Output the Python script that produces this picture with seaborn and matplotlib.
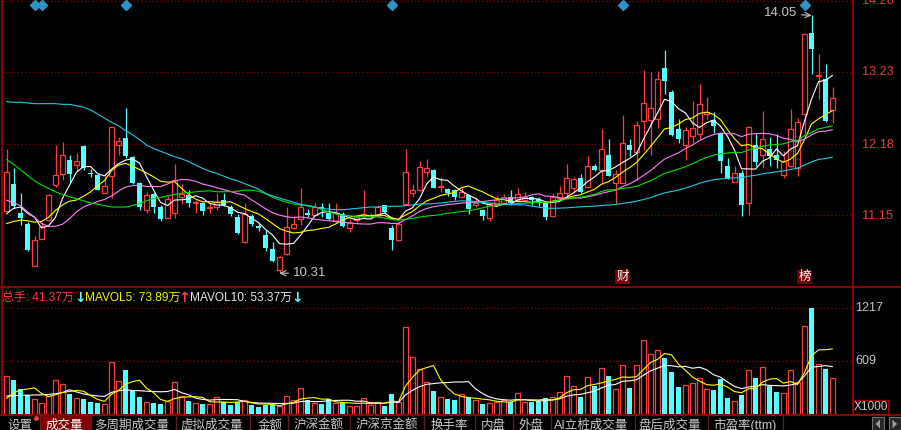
import numpy as np
import pandas as pd
import seaborn as sns
import matplotlib.pyplot as plt
from matplotlib.patches import Rectangle, Polygon
from matplotlib.transforms import blended_transform_factory

## data (daily K line, 119 sessions) ##

open_ = [11.214, 11.600, 11.185, 11.028, 10.412, 10.808, 11.077, 11.585, 11.747, 11.957,
         11.879, 12.162, 11.762, 11.737, 11.478, 11.722, 12.177, 12.265, 11.996, 11.615,
         11.224, 11.458, 11.272, 11.116, 11.185, 11.409, 11.444, 11.321, 11.331, 11.262,
         11.272, 11.370, 11.272, 11.126, 10.759, 11.145, 10.994, 10.871, 10.661, 10.353,
         10.588, 10.969, 11.101, 11.189, 11.150, 11.263, 11.185, 11.067, 11.175, 10.969,
         11.087, 11.136, 11.145, 11.136, 11.292, 10.969, 10.793, 11.312, 11.478, 11.517,
         11.771, 11.810, 11.556, 11.537, 11.517, 11.419, 11.444, 11.297, 11.224, 11.111,
         11.312, 11.321, 11.409, 11.370, 11.370, 11.419, 11.380, 11.331, 11.136, 11.395,
         11.478, 11.541, 11.688, 11.556, 11.869, 11.801, 12.031, 11.615, 11.625, 12.163,
         12.065, 12.520, 12.534, 12.554, 13.292, 12.945, 12.397, 12.177, 12.300, 12.334,
         12.617, 12.534, 12.339, 11.869, 11.639, 11.762, 11.321, 12.177, 12.030, 12.114,
         12.030, 11.737, 11.859, 11.835, 12.617, 13.791, 13.170, 13.131, 12.681]
high = [12.114, 11.840, 11.468, 11.053, 10.852, 11.053, 11.458, 12.177, 12.216, 12.031,
        12.055, 12.170, 11.825, 11.750, 11.722, 12.436, 12.290, 12.700, 12.006, 11.640,
        11.493, 11.493, 11.297, 11.429, 11.899, 11.605, 11.517, 11.370, 11.346, 11.321,
        11.468, 11.468, 11.297, 11.165, 11.321, 11.175, 11.038, 10.930, 10.759, 10.563,
        11.263, 11.136, 11.541, 11.248, 11.331, 11.331, 11.331, 11.331, 11.199, 11.101,
        11.150, 11.517, 11.185, 11.297, 11.302, 11.004, 11.052, 12.114, 11.605, 11.933,
        11.967, 11.820, 11.703, 11.551, 11.527, 11.566, 11.458, 11.409, 11.248, 11.321,
        11.429, 11.458, 11.517, 11.541, 11.493, 11.429, 11.409, 11.346, 11.468, 11.576,
        11.899, 11.703, 11.752, 12.016, 11.899, 12.407, 12.260, 11.810, 12.603, 12.251,
        12.520, 13.253, 13.229, 13.238, 13.542, 12.974, 12.544, 12.436, 12.813, 13.057,
        12.862, 12.642, 12.349, 11.982, 11.859, 11.811, 12.446, 12.324, 12.666, 12.290,
        12.324, 12.079, 12.691, 12.569, 13.786, 14.050, 13.498, 13.351, 13.009]
low = [11.210, 11.250, 11.004, 10.637, 10.410, 10.800, 11.067, 11.566, 11.664, 11.639,
       11.786, 11.801, 11.703, 11.510, 11.470, 11.395, 12.031, 11.982, 11.605, 11.224,
       11.185, 11.185, 11.067, 11.110, 11.116, 11.312, 11.272, 11.185, 11.150, 11.185,
       11.224, 11.282, 11.136, 10.881, 10.744, 10.989, 10.920, 10.637, 10.466, 10.310,
       10.578, 10.955, 11.004, 11.126, 11.136, 11.126, 11.087, 11.052, 10.979, 10.906,
       11.028, 11.126, 11.101, 11.126, 11.185, 10.647, 10.774, 11.297, 11.419, 11.507,
       11.703, 11.541, 11.493, 11.429, 11.370, 11.409, 11.165, 11.272, 11.077, 11.067,
       11.297, 11.312, 11.297, 11.346, 11.360, 11.297, 11.282, 11.077, 11.130, 11.380,
       11.419, 11.493, 11.478, 11.541, 11.786, 11.605, 11.713, 11.312, 11.615, 12.006,
       11.664, 12.104, 12.031, 12.422, 12.911, 12.300, 12.202, 11.947, 12.202, 12.260,
       12.544, 12.348, 11.762, 11.673, 11.630, 11.136, 11.150, 11.859, 11.835, 11.859,
       11.835, 11.688, 11.849, 11.713, 12.324, 13.204, 12.837, 12.505, 12.485]
close = [11.776, 11.282, 11.116, 10.647, 10.793, 10.989, 11.439, 11.732, 12.026, 11.747,
         11.938, 11.835, 11.742, 11.517, 11.576, 12.427, 12.226, 12.006, 11.615, 11.263,
         11.439, 11.272, 11.101, 11.380, 11.664, 11.458, 11.331, 11.336, 11.214, 11.277,
         11.346, 11.297, 11.165, 10.891, 11.175, 11.018, 10.969, 10.676, 10.480, 10.549,
         10.979, 11.028, 11.263, 11.150, 11.263, 11.243, 11.101, 11.185, 10.989, 11.038,
         11.126, 11.175, 11.155, 11.263, 11.199, 10.784, 11.018, 11.781, 11.517, 11.850,
         11.835, 11.551, 11.576, 11.478, 11.419, 11.493, 11.248, 11.331, 11.136, 11.312,
         11.370, 11.409, 11.321, 11.453, 11.419, 11.370, 11.360, 11.126, 11.419, 11.468,
         11.688, 11.673, 11.493, 11.869, 11.801, 12.114, 11.722, 11.750, 12.192, 12.094,
         12.466, 12.774, 12.700, 13.131, 13.092, 12.309, 12.251, 12.383, 12.422, 12.759,
         12.652, 12.446, 11.933, 11.688, 11.762, 11.297, 12.436, 11.918, 12.260, 12.006,
         11.947, 11.933, 12.407, 12.505, 13.776, 13.561, 13.190, 12.520, 12.847]
# volume in thousands of lots (axis says X1000)
volume = [435, 389, 281, 216, 166, 119, 204, 389, 343, 227,
          177, 166, 139, 119, 112, 593, 377, 504, 266, 196,
          131, 119, 112, 150, 362, 204, 146, 119, 112, 112,
          189, 139, 100, 131, 158, 100, 73, 100, 100, 89,
          204, 158, 293, 158, 119, 112, 166, 127, 127, 89,
          89, 177, 100, 139, 89, 227, 139, 997, 650, 512,
          362, 262, 189, 166, 158, 223, 189, 158, 112, 119,
          139, 158, 139, 235, 139, 131, 150, 177, 196, 254,
          435, 320, 196, 420, 320, 523, 435, 281, 562, 296,
          562, 851, 689, 735, 639, 485, 312, 331, 350, 408,
          281, 273, 400, 177, 146, 216, 504, 408, 543, 323,
          254, 235, 504, 370, 1012, 1224, 574, 516, 413.7]
# header readout (万手)
mavol5_last = 73.89
mavol10_last = 53.37

# moving-average values before the window is full (earlier sessions are off-screen)
ma5_head = [11.17, 11.25, 11.27, 11.18]
ma10_head = [11.03, 11.06, 11.08, 11.07, 11.05, 11.06, 11.12, 11.22, 11.30]
ma20_head = [11.37, 11.33, 11.29, 11.20, 11.12, 11.03, 10.99, 10.99, 11.02, 11.10,
             11.20, 11.27, 11.31, 11.35, 11.38, 11.43, 11.50, 11.56, 11.58]
ma30_head = [11.96, 11.89, 11.81, 11.73, 11.65, 11.59, 11.54, 11.49, 11.45, 11.42,
             11.39, 11.36, 11.33, 11.31, 11.29, 11.27, 11.27, 11.27, 11.29, 11.32,
             11.36, 11.39, 11.41, 11.43, 11.45, 11.47, 11.48, 11.49, 11.50]
ma60_head = [12.80, 12.79, 12.79, 12.78, 12.77, 12.77, 12.77, 12.77, 12.76, 12.76,
             12.74, 12.72, 12.68, 12.62, 12.56, 12.50, 12.45, 12.38, 12.32, 12.25,
             12.17, 12.12, 12.08, 12.04, 12.00, 11.97, 11.93, 11.88, 11.83, 11.79,
             11.76, 11.72, 11.68, 11.65, 11.61, 11.57, 11.53, 11.47, 11.43, 11.40,
             11.37, 11.34, 11.31, 11.29, 11.27, 11.25, 11.24, 11.23, 11.23, 11.24,
             11.25, 11.26, 11.27, 11.27, 11.28, 11.28, 11.28, 11.29, 11.30]
vma5_head = [177, 240, 273, 285]
vma10_head = [204, 208, 212, 214, 216, 218, 222, 230, 245]

price_ticks = [14.26, 13.23, 12.18, 11.15]
vol_ticks = [1217, 609]
event_days = [4, 5, 17, 55, 88, 114]      # blue diamonds on top
badge_days = {88: "财", 114: "榜"}
tabs = ["设置", "成交量", "多周期成交量", "虚拟成交量", "金额", "沪深金额", "沪深京金额",
        "换手率", "内盘", "外盘", "AI立桩成交量", "盘后成交量", "市盈率(ttm)"]

## setup ##

sns.set_style("dark", {"axes.facecolor": "black", "figure.facecolor": "black"})
plt.rcParams['font.family'] = ['Liberation Sans', 'Noto Sans CJK SC', 'DejaVu Sans']

RED = "#ff3c3c"
CYAN = "#54ffff"
FRAME = "#a00000"
GRID = "#8a0000"
GREY = "#c8c8c8"

W, H = 901, 430
fig = plt.figure(figsize=(W / 100, H / 100), dpi=100, facecolor="black")


def px_axes(x0, y0, x1, y1):
    return fig.add_axes([x0 / W, 1 - y1 / H, (x1 - x0) / W, (y1 - y0) / H])


df = pd.DataFrame({"open": open_, "high": high, "low": low, "close": close, "vol": volume})
n = len(df)
x = np.arange(n)


def ma(s, k, head):
    out = s.rolling(k).mean().to_numpy()
    out[:k - 1] = head
    return out


ma_lines = [(ma(df.close, 5, ma5_head), "#ffffff"),
            (ma(df.close, 10, ma10_head), "#ffff00"),
            (ma(df.close, 20, ma20_head), "#ff80ff"),
            (ma(df.close, 30, ma30_head), "#00e000"),
            (ma(df.close, 60, ma60_head), "#22c8e6")]
vma_lines = [(ma(df.vol, 10, vma10_head), "#ffffff"),
             (ma(df.vol, 5, vma5_head), "#ffff00")]

up = (df.close >= df.open).to_numpy()
dn = ~up
o, c, h, l = df.open.to_numpy(), df.close.to_numpy(), df.high.to_numpy(), df.low.to_numpy()
top = np.maximum(o, c)
bot = np.minimum(o, c)
body = np.maximum(top - bot, 0.006)

xlim = ((2 - 6.5) / 7, (852 - 6.5) / 7)

## price panel ##

ax = px_axes(2, 0, 852, 287)
ax.set_facecolor("black")
ax.set_xlim(*xlim)
ax.set_ylim(14.26 - 286 / 68.9, 14.26 + 1 / 68.9)
for p in price_ticks:
    ax.axhline(p, color=GRID, lw=0.9, ls=(0, (1, 2)), zorder=0)

ax.vlines(x[up], top[up], h[up], color=RED, lw=0.9, zorder=2)
ax.vlines(x[up], l[up], bot[up], color=RED, lw=0.9, zorder=2)
ax.vlines(x[dn], l[dn], h[dn], color=CYAN, lw=0.9, zorder=2)
ax.bar(x[up], body[up], bottom=bot[up], width=0.6, facecolor="black",
       edgecolor=RED, linewidth=0.9, zorder=3)
ax.bar(x[dn], body[dn], bottom=bot[dn], width=0.68, color=CYAN, linewidth=0, zorder=3)

for vals, col in ma_lines:
    sns.lineplot(x=x, y=vals, color=col, lw=0.8, ax=ax, zorder=4)

tr = blended_transform_factory(ax.transData, ax.transAxes)
ax.plot(event_days, [1 - 5.3 / 287] * len(event_days), ls="none", marker="D",
        ms=5.5, color="#2e93c8", transform=tr, clip_on=False, zorder=5)
for d, s in badge_days.items():
    ax.text(d, 0.035, s, transform=tr, ha="center", va="center", color="white",
            fontsize=9, bbox=dict(boxstyle="square,pad=0.08", fc="#7a0000", ec="none"), zorder=6)

imax, imin = int(np.argmax(h)), int(np.argmin(l))
ax.annotate(f"{h[imax]:.2f}", xy=(imax, h[imax]), xytext=(imax - 2.1, h[imax] + 0.03),
            ha="right", va="center", color=GREY, fontsize=9.5,
            arrowprops=dict(arrowstyle="->", color=GREY, lw=0.8, shrinkA=1, shrinkB=0))
ax.annotate(f"{l[imin]:.2f}", xy=(imin, l[imin]), xytext=(imin + 1.95, l[imin]),
            ha="left", va="center", color=GREY, fontsize=9.5,
            arrowprops=dict(arrowstyle="->", color=GREY, lw=0.8, shrinkA=1, shrinkB=0))
ax.set_xticks([])
ax.set_yticks([])
ax.set_xlabel("")
ax.set_ylabel("")
for sp in ax.spines.values():
    sp.set_visible(False)

## volume panel ##

av = px_axes(2, 287, 852, 414)
av.set_facecolor("black")
av.set_xlim(*xlim)
av.set_ylim((413.7 - 414) / 0.0866, (413.7 - 287) / 0.0866)
for v in vol_ticks:
    av.axhline(v, color=GRID, lw=0.9, ls=(0, (1, 2)), zorder=0)
vol = df.vol.to_numpy()
av.bar(x[up], vol[up], width=0.6, facecolor="black", edgecolor=RED, linewidth=0.9, zorder=2)
av.bar(x[dn], vol[dn], width=0.68, color=CYAN, linewidth=0, zorder=2)
for vals, col in vma_lines:
    sns.lineplot(x=x, y=vals, color=col, lw=0.8, ax=av, zorder=4)
av.set_xticks([])
av.set_yticks([])
av.set_xlabel("")
av.set_ylabel("")
for sp in av.spines.values():
    sp.set_visible(False)

## frame, labels, header and tab bar ##

ov = fig.add_axes([0, 0, 1, 1])
ov.set_xlim(0, W)
ov.set_ylim(H, 0)
ov.axis("off")
ov.patch.set_alpha(0)

ov.plot([1.5, 1.5], [0, 414], color=FRAME, lw=1.2)
ov.plot([852.5, 852.5], [0, 414], color=FRAME, lw=1.2)
ov.plot([0, W], [287, 287], color=FRAME, lw=1.2)
ov.plot([0, W], [414.5, 414.5], color=FRAME, lw=1.2)

for p in price_ticks:
    yp = 1 + (14.26 - p) * 68.9
    ov.text(862, max(yp, 0.5) + 0.5, f"{p:.2f}", color="#e83c3c", fontsize=9.2,
            ha="left", va="center")
for v in vol_ticks:
    ov.text(855, 413.7 - v * 0.0866, str(v), color=GREY, fontsize=9, ha="left", va="center")
ov.add_patch(Rectangle((853, 399.5), 35, 14, fc="black", ec=FRAME, lw=1))
ov.text(870.5, 407, "X1000", color=GREY, fontsize=8.6, ha="center", va="center")

header = [(2, f"总手: {vol[-1] / 10:.2f}万", RED),
          (85, f"MAVOL5: {mavol5_last:.2f}万", "#f0f000"),
          (190, f"MAVOL10: {mavol10_last:.2f}万", "#e8e8e8")]
for xx, s, col in header:
    ov.text(xx, 298, s, color=col, fontsize=8.6, ha="left", va="center")
for xx, s, col in [(80.5, "↓", CYAN), (184.5, "↑", RED), (297.5, "↓", CYAN)]:
    ov.text(xx, 298, s, color=col, fontsize=10, fontweight="bold", ha="center",
            va="center", family="DejaVu Sans")

tab_x = [20, 64, 132, 212, 270, 319, 387, 449, 493, 531, 591, 670, 745]
seps = [40, 90.5, 176, 250, 288, 350, 424, 475, 512.5, 550.5, 635, 708, 783]
ov.add_patch(Rectangle((40.5, 415.5), 50, 15, fc="#800000", ec="none"))
for sx in seps:
    ov.plot([sx, sx], [416, 430], color="#5a2020", lw=1)
for tx, s in zip(tab_x, tabs):
    col = "white" if s == "成交量" else GREY
    ov.text(tx, 425.5, s, color=col, fontsize=9, ha="center", va="center")
ov.plot([35.5], [418], marker="o", ms=2.5, color=RED, ls="none")

for bx, pts in [(872, [(880, 419.5), (880, 428.5), (875.5, 424)]),
                (889, [(892.5, 419.5), (892.5, 428.5), (897, 424)])]:
    ov.add_patch(Rectangle((bx, 416.5), 12, 14, fc="#262626", ec="#707070", lw=0.8))
    ov.add_patch(Polygon(pts, closed=True, fc="#9a9a9a", ec="none"))

fig.savefig("out.png", dpi=100, facecolor="black")
